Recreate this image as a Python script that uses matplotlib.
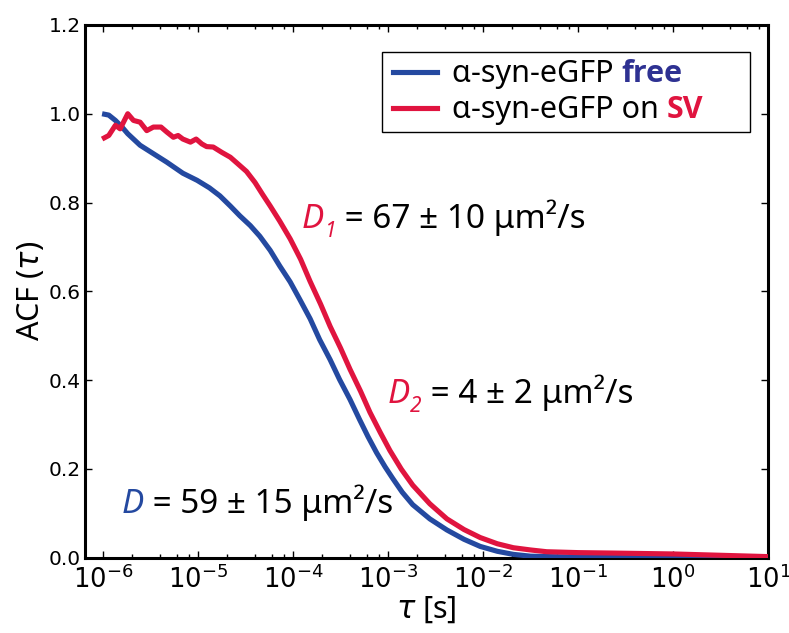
import numpy as np
import matplotlib
matplotlib.use("Agg")
import matplotlib.pyplot as plt
import matplotlib.transforms as mtransforms
from matplotlib.ticker import FixedLocator, NullFormatter, LogFormatterSciNotation
from matplotlib.patches import Rectangle
from matplotlib.lines import Line2D

plt.rcParams['font.family'] = ['DejaVu Sans']
plt.rcParams['mathtext.fontset'] = 'dejavusans'
plt.rcParams['axes.unicode_minus'] = False

LABEL_FONT = ['Noto Sans', 'DejaVu Sans']
BOLD_FONT = ['Open Sans', 'DejaVu Sans']

# autocorrelation curves, lag time as log10(tau / s)
free_logtau = [-6.01, -5.94, -5.87, -5.80, -5.74, -5.61, -5.47, -5.33, -5.16, -5.01,
               -4.88, -4.77, -4.66, -4.56, -4.45, -4.35, -4.24, -4.14, -4.03, -3.93,
               -3.82, -3.72, -3.61, -3.51, -3.40, -3.30, -3.21, -3.12, -3.03, -2.95,
               -2.85, -2.74, -2.56, -2.38, -2.20, -2.03, -1.85, -1.68, -1.50, -1.30,
               -1.00, -0.50, 0.00, 1.00]
free_acf = [1.000, 0.997, 0.985, 0.970, 0.955, 0.929, 0.910, 0.891, 0.866, 0.850,
            0.833, 0.815, 0.792, 0.770, 0.748, 0.724, 0.692, 0.657, 0.621, 0.582,
            0.538, 0.491, 0.446, 0.401, 0.356, 0.311, 0.272, 0.236, 0.204, 0.178,
            0.147, 0.119, 0.087, 0.062, 0.041, 0.025, 0.014, 0.007, 0.003, 0.002,
            0.001, 0.001, 0.000, 0.000]

sv_logtau = [-6.01, -5.94, -5.87, -5.82, -5.74, -5.68, -5.61, -5.54, -5.47, -5.39,
             -5.33, -5.26, -5.21, -5.16, -5.08, -5.02, -4.96, -4.91, -4.84, -4.75,
             -4.66, -4.58, -4.49, -4.40, -4.32, -4.24, -4.14, -4.03, -3.92, -3.82,
             -3.71, -3.61, -3.50, -3.40, -3.29, -3.19, -3.08, -2.98, -2.86, -2.74,
             -2.56, -2.38, -2.20, -2.03, -1.85, -1.68, -1.50, -1.33, -1.00, -0.63,
             0.00, 0.50, 1.00]
sv_acf = [0.943, 0.951, 0.974, 0.966, 1.000, 0.985, 0.981, 0.962, 0.970, 0.970,
          0.959, 0.947, 0.951, 0.943, 0.936, 0.943, 0.932, 0.926, 0.925, 0.913,
          0.902, 0.887, 0.870, 0.845, 0.818, 0.792, 0.758, 0.718, 0.672, 0.622,
          0.571, 0.521, 0.472, 0.424, 0.375, 0.327, 0.281, 0.241, 0.199, 0.163,
          0.121, 0.087, 0.063, 0.045, 0.031, 0.022, 0.017, 0.013, 0.011, 0.010,
          0.008, 0.005, 0.002]

x_decades = [1e-6, 1e-5, 1e-4, 1e-3, 1e-2, 1e-1, 1e0, 1e1]
y_ticks = [0.0, 0.2, 0.4, 0.6, 0.8, 1.0, 1.2]
y_tick_labels = ['0.0', '0.2', '0.4', '0.6', '0.8', '1.0', '1.2']

BLUE = '#2449a0'
RED = '#e0143f'
NAVY = '#2e3192'

W, H = 789, 633
fig = plt.figure(figsize=(W / 100, H / 100), dpi=100)
ax = fig.add_axes([85 / W, 1 - 557.5 / H, 683 / W, 532.5 / H])

ax.plot(10 ** np.array(free_logtau), free_acf, color=BLUE, lw=3.7,
        solid_joinstyle='round', solid_capstyle='butt', zorder=3)
ax.plot(10 ** np.array(sv_logtau), sv_acf, color=RED, lw=3.7,
        solid_joinstyle='round', solid_capstyle='butt', zorder=4)

ax.set_xscale('log')
ax.set_xlim(10 ** -6.19, 10)
ax.set_ylim(0.0, 1.2)
minor = [m * d for d in x_decades[:-1] for m in (2, 4, 6, 8)]
ax.xaxis.set_major_locator(FixedLocator(x_decades))
ax.xaxis.set_major_formatter(LogFormatterSciNotation())
ax.xaxis.set_minor_locator(FixedLocator(minor))
ax.xaxis.set_minor_formatter(NullFormatter())
ax.yaxis.set_major_locator(FixedLocator(y_ticks))
ax.set_yticklabels(y_tick_labels)

ax.tick_params(which='both', direction='in', top=True, right=True, width=1.0)
ax.tick_params(which='major', length=5)
ax.tick_params(which='minor', length=3)
ax.tick_params(axis='x', labelsize=18.5, pad=6)
ax.tick_params(axis='y', labelsize=14.5, pad=3)
for sp in ax.spines.values():
    sp.set_linewidth(2.2)

ax.set_ylabel(r'ACF ($\tau$)', family=LABEL_FONT, fontsize=22, labelpad=2)
ax.set_xlabel(r'$\tau$ [s]', family=LABEL_FONT, fontsize=22, labelpad=0)

fig.canvas.draw()
renderer = fig.canvas.get_renderer()


def chain(base, x, y, parts):
    """Write text segments one after another along a common baseline."""
    dx = 0.0
    for s, kw, dy in parts:
        tr = mtransforms.offset_copy(base, fig=fig, x=dx, y=dy, units='dots')
        kw = dict(kw)
        kw.setdefault('family', LABEL_FONT)
        t = fig.text(x, y, s, transform=tr, va='baseline', ha='left', **kw)
        dx += t.get_window_extent(renderer).width


def px(x, y):
    return x / W, 1 - y / H


# legend box
lx0, ly0 = px(382, 132)
fig.add_artist(Rectangle((lx0, ly0), 368 / W, 80 / H, transform=fig.transFigure,
                         facecolor='white', edgecolor='black', lw=1.0, zorder=5))
legend_rows = [
    (BLUE, 72, [('α-syn-eGFP ', dict(fontsize=22, color='black')),
                ('free', dict(fontsize=22, color=NAVY, weight='bold', family=BOLD_FONT))]),
    (RED, 108, [('α-syn-eGFP on ', dict(fontsize=22, color='black')),
                ('SV', dict(fontsize=22, color=RED, weight='bold', family=BOLD_FONT))]),
]
for color, yc, parts in legend_rows:
    xa, ya = px(393, yc)
    xb, _ = px(437, yc)
    fig.add_artist(Line2D([xa, xb], [ya, ya], transform=fig.transFigure,
                          color=color, lw=3.7, zorder=6))
    tx, ty = px(452, yc + 10)
    chain(fig.transFigure, tx, ty, [(s, dict(kw, zorder=6), 0) for s, kw in parts])

# diffusion-coefficient annotations
ital_red = dict(fontsize=24, style='italic', color=RED)
ital_blue = dict(fontsize=24, style='italic', color=BLUE)
sub_red = dict(fontsize=15, style='italic', color=RED)
plain = dict(fontsize=24, color='black')

chain(fig.transFigure, *px(302, 228),
      [('D', ital_red, 0), ('1', sub_red, -9), (' = 67 ± 10 μm²/s', plain, 0)])
chain(fig.transFigure, *px(388, 403),
      [('D', ital_red, 0), ('2', sub_red, -9), (' = 4 ± 2 μm²/s', plain, 0)])
chain(fig.transFigure, *px(122, 513),
      [('D', ital_blue, 0), (' = 59 ± 15 μm²/s', plain, 0)])

fig.savefig('out.png', dpi=100)
